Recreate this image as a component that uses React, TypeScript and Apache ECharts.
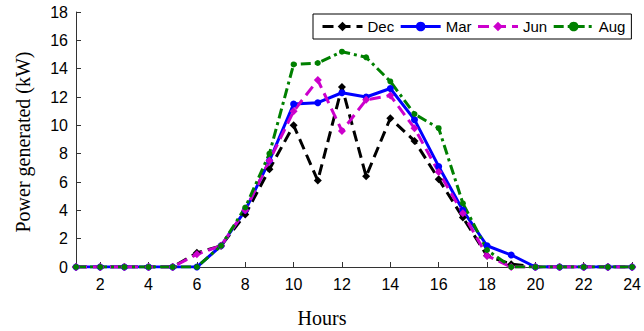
import React, { useEffect, useRef } from "react";
import * as echarts from "echarts";

const hours = ["1","2","3","4","5","6","7","8","9","10","11","12","13","14","15","16","17","18","19","20","21","22","23","24"];
const dec = [0,0,0,0,0,1.0,1.5,3.7,6.9,10.0,6.1,12.7,6.4,10.5,8.9,6.2,3.5,0.8,0.2,0,0,0,0,0];
const mar = [0,0,0,0,0,0,1.5,4.0,7.5,11.5,11.6,12.3,12.0,12.6,10.4,7.1,4.0,1.5,0.85,0,0,0,0,0];
const jun = [0,0,0,0,0,0.9,1.5,4.0,7.5,11.0,13.2,9.6,11.8,12.1,9.8,6.7,3.8,0.8,0,0,0,0,0,0];
const aug = [0,0,0,0,0,0,1.5,4.2,8.0,14.3,14.4,15.2,14.8,13.1,10.8,9.8,4.5,1.2,0,0,0,0,0,0];
const yTicks = { min: 0, max: 18, interval: 2 };

export default function App() {
  const ref = useRef<HTMLDivElement>(null);
  useEffect(() => {
    if (!ref.current) return;
    const chart = echarts.init(ref.current, null, { renderer: "svg" });
    const axisColor = "#333";
    const mk = (name: string, data: number[], color: string, symbol: string, size: number, dash: any) => ({
      name,
      type: "line",
      data,
      symbol,
      symbolSize: size,
      showSymbol: true,
      itemStyle: { color },
      lineStyle: { color, width: 3, type: dash },
    });
    chart.setOption({
      animation: false,
      backgroundColor: "#fff",
      grid: { left: 76, right: 11, top: 12, bottom: 64, containLabel: false },
      legend: {
        left: 313,
        top: 14,
        orient: "horizontal",
        itemWidth: 40,
        itemHeight: 12,
        itemGap: 5,
        padding: [5, 6, 5, 8],
        borderColor: "#000",
        borderWidth: 1,
        backgroundColor: "#fff",
        lineStyle: { width: 3 },
        textStyle: { fontFamily: "Liberation Sans, Arial", fontSize: 15, color: "#000" },
        data: ["Dec", "Mar", "Jun", "Aug"],
      },
      xAxis: {
        type: "category",
        data: hours,
        boundaryGap: false,
        axisLine: { lineStyle: { color: axisColor, width: 1 } },
        axisTick: { inside: true, length: 5, interval: (i: number) => i % 2 === 1, lineStyle: { color: axisColor } },
        axisLabel: {
          interval: (i: number) => i % 2 === 1,
          margin: 9,
          fontFamily: "Liberation Sans, Arial",
          fontSize: 16,
          color: "#000",
        },
        splitLine: { show: false },
      },
      yAxis: {
        type: "value",
        min: yTicks.min,
        max: yTicks.max,
        interval: yTicks.interval,
        axisLine: { show: true, lineStyle: { color: axisColor, width: 1 } },
        axisTick: { show: true, inside: true, length: 5, lineStyle: { color: axisColor } },
        axisLabel: { margin: 8, fontFamily: "Liberation Sans, Arial", fontSize: 16, color: "#000" },
        splitLine: { show: false },
      },
      graphic: [
        {
          type: "text",
          x: 23,
          y: 142,
          rotation: Math.PI / 2,
          style: {
            text: "Power generated (kW)",
            fontFamily: "Liberation Serif, Times New Roman",
            fontSize: 20,
            fill: "#000",
            align: "center",
            verticalAlign: "middle",
          },
        },
        {
          type: "text",
          x: 322,
          y: 318,
          style: {
            text: "Hours",
            fontFamily: "Liberation Serif, Times New Roman",
            fontSize: 20,
            fill: "#000",
            align: "center",
            verticalAlign: "middle",
          },
        },
      ],
      series: [
        mk("Dec", dec, "#000000", "diamond", 8, [11, 6]),
        mk("Mar", mar, "#0000ff", "circle", 7, "solid"),
        mk("Jun", jun, "#cc00cc", "diamond", 8, [11, 6]),
        mk("Aug", aug, "#008000", "circle", 6, [10, 4, 3, 4]),
      ],
    });
    return () => chart.dispose();
  }, []);
  return <div ref={ref} style={{ position: "fixed", left: 0, top: 0, width: 644, height: 331 }} />;
}
